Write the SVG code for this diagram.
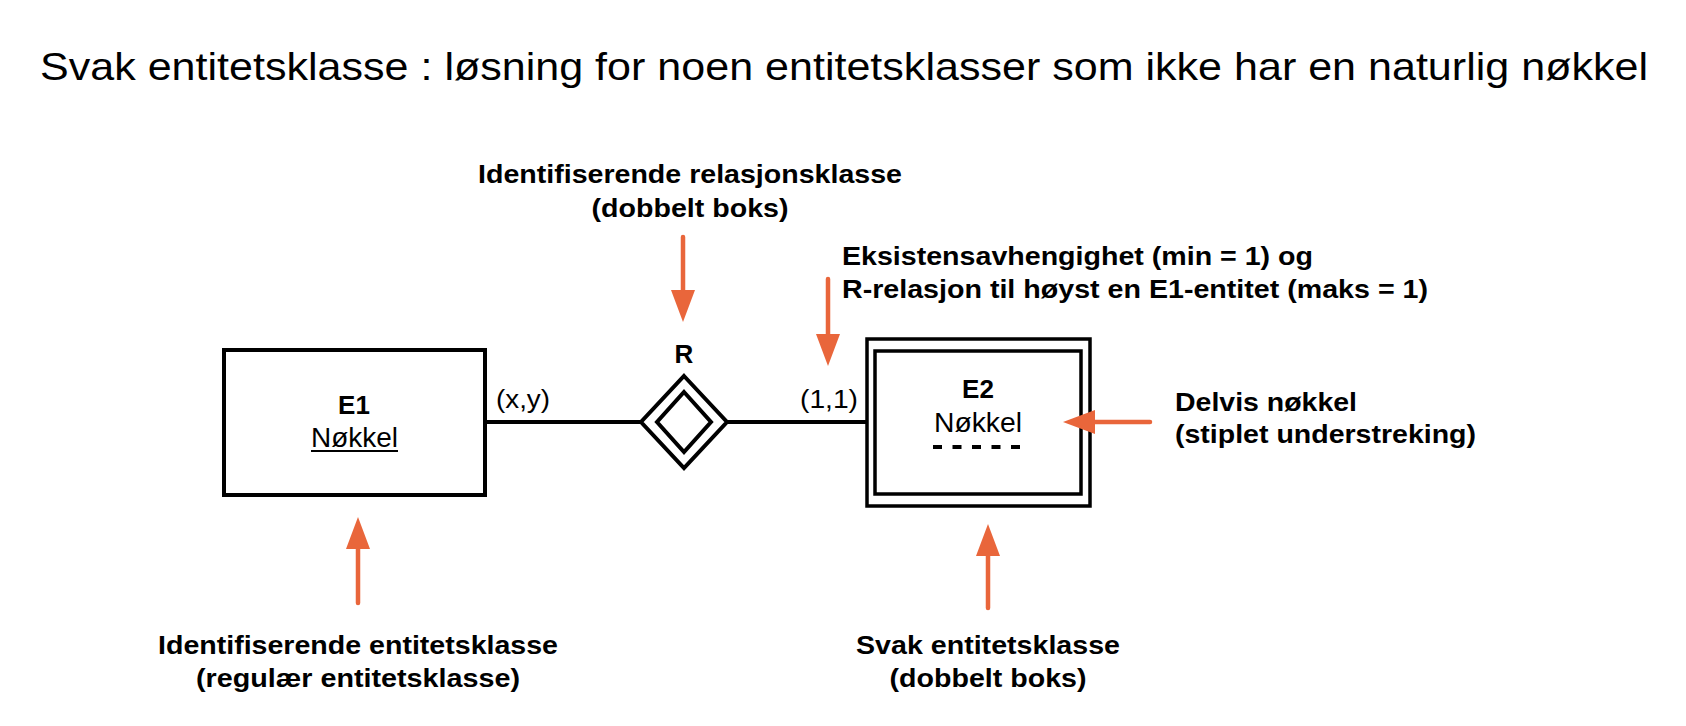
<svg xmlns="http://www.w3.org/2000/svg" width="1686" height="726" viewBox="0 0 1686 726">
<style>
text{font-family:"Liberation Sans",Arial,Helvetica,sans-serif;fill:#000}
.title{font-size:39px}
.lbl{font-size:26px;font-weight:bold}
.ent{font-size:26px;font-weight:bold}
.key{font-size:27px}
.card{font-size:25px}
.box{fill:#fff;stroke:#000;stroke-width:4}
.box2{fill:none;stroke:#000;stroke-width:3.5}
.conn{stroke:#000;stroke-width:4;fill:none}
.arr{stroke:#E9663B;stroke-width:4.5;fill:none;stroke-linecap:round}
</style>
<defs>
<marker id="head" markerUnits="userSpaceOnUse" viewBox="0 0 32 24" markerWidth="32" markerHeight="24" refX="0" refY="12" orient="auto">
<path d="M0,0 L32,12 L0,24 Z" fill="#E9663B"/>
</marker>
</defs>
<rect width="1686" height="726" fill="#fff"/>
<text class="title" x="40" y="80" textLength="1608" lengthAdjust="spacingAndGlyphs">Svak entitetsklasse : løsning for noen entitetsklasser som ikke har en naturlig nøkkel</text>

<g id="connectors">
<line class="conn" x1="486" y1="422" x2="641" y2="422"/>
<line class="conn" x1="727" y1="422" x2="867" y2="422"/>
</g>

<g id="E1">
<rect class="box" x="224" y="350" width="261" height="145"/>
<text class="ent" x="354" y="414" text-anchor="middle">E1</text>
<text class="key" x="311" y="447" textLength="87" lengthAdjust="spacingAndGlyphs">Nøkkel</text>
<line x1="311" y1="451" x2="398" y2="451" stroke="#000" stroke-width="2"/>
</g>

<g id="R">
<polygon points="684,376 727,422 684,468 641,422" fill="#fff" stroke="#000" stroke-width="4"/>
<polygon points="684,392 711,422 684,452 657,422" fill="none" stroke="#000" stroke-width="4"/>
<text class="ent" x="684" y="363" text-anchor="middle">R</text>
</g>

<g id="cardinalities">
<text class="card" x="496" y="408" textLength="54" lengthAdjust="spacingAndGlyphs">(x,y)</text>
<text class="card" x="800" y="408" textLength="58" lengthAdjust="spacingAndGlyphs">(1,1)</text>
</g>

<g id="E2">
<rect class="box2" x="867" y="339" width="223" height="167" fill="#fff"/>
<rect class="box2" x="875" y="351" width="206" height="143"/>
<text class="ent" x="978" y="398" text-anchor="middle">E2</text>
<text class="key" x="934" y="432" textLength="88" lengthAdjust="spacingAndGlyphs">Nøkkel</text>
<line x1="933" y1="447" x2="1021" y2="447" stroke="#000" stroke-width="4" stroke-dasharray="9 10.5"/>
</g>

<g id="annotations">
<line class="arr" x1="683" y1="237" x2="683" y2="290" marker-end="url(#head)"/>
<line class="arr" x1="828" y1="279" x2="828" y2="334" marker-end="url(#head)"/>
<line class="arr" x1="1150" y1="422" x2="1095" y2="422" marker-end="url(#head)"/>
<line class="arr" x1="358" y1="603" x2="358" y2="549" marker-end="url(#head)"/>
<line class="arr" x1="988" y1="608" x2="988" y2="556" marker-end="url(#head)"/>
</g>

<g id="label-relation">
<text class="lbl" x="690" y="183" text-anchor="middle" textLength="424" lengthAdjust="spacingAndGlyphs">Identifiserende relasjonsklasse</text>
<text class="lbl" x="690" y="217" text-anchor="middle" textLength="197" lengthAdjust="spacingAndGlyphs">(dobbelt boks)</text>
</g>
<g id="label-existence">
<text class="lbl" x="842" y="265" textLength="471" lengthAdjust="spacingAndGlyphs">Eksistensavhengighet (min = 1) og</text>
<text class="lbl" x="842" y="298" textLength="586" lengthAdjust="spacingAndGlyphs">R-relasjon til høyst en E1-entitet (maks = 1)</text>
</g>
<g id="label-partial-key">
<text class="lbl" x="1175" y="411" textLength="182" lengthAdjust="spacingAndGlyphs">Delvis nøkkel</text>
<text class="lbl" x="1175" y="443" textLength="301" lengthAdjust="spacingAndGlyphs">(stiplet understreking)</text>
</g>
<g id="label-identifying">
<text class="lbl" x="358" y="654" text-anchor="middle" textLength="400" lengthAdjust="spacingAndGlyphs">Identifiserende entitetsklasse</text>
<text class="lbl" x="358" y="687" text-anchor="middle" textLength="324" lengthAdjust="spacingAndGlyphs">(regulær entitetsklasse)</text>
</g>
<g id="label-weak">
<text class="lbl" x="988" y="654" text-anchor="middle" textLength="264" lengthAdjust="spacingAndGlyphs">Svak entitetsklasse</text>
<text class="lbl" x="988" y="687" text-anchor="middle" textLength="197" lengthAdjust="spacingAndGlyphs">(dobbelt boks)</text>
</g>
</svg>
